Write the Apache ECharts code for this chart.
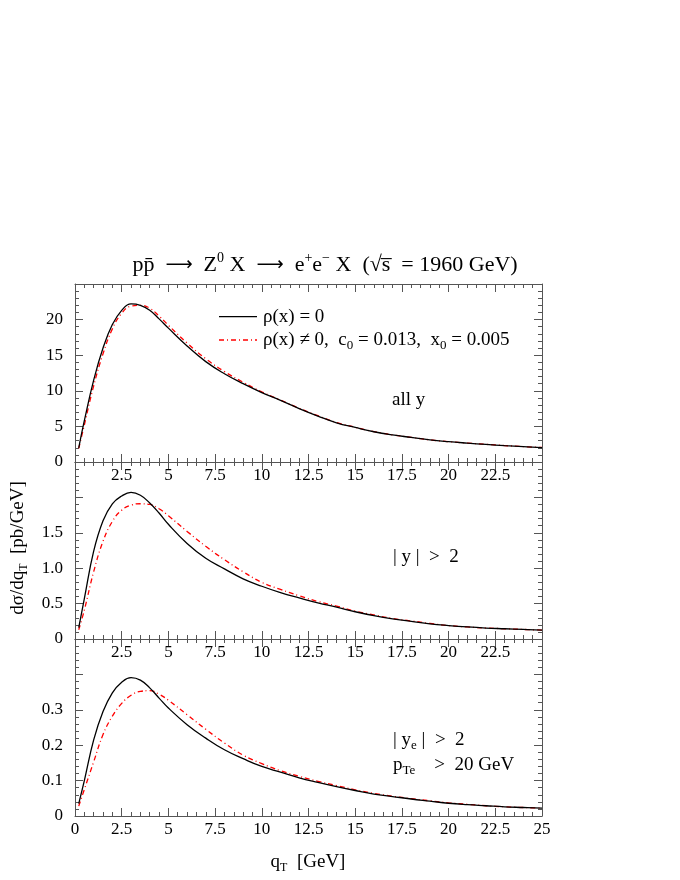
<!DOCTYPE html>
<html><head><meta charset="utf-8">
<script src="https://cdn.jsdelivr.net/npm/echarts@6/dist/echarts.min.js"></script>
<style>html,body{margin:0;padding:0;background:#fff}#c{width:680px;height:880px}</style>
</head><body><div id="c"></div>
<script>
const qT = [0.2,0.5,1,1.5,2,2.5,3,3.5,4,4.5,5,6,7,8,9,10,11,12,13,14,15,16,17,18,19,20,21,22,23,24,25];
const allyRho0   = [2.0,5.8,11.5,16.0,19.3,21.3,22.2,22.0,21.3,20.1,18.8,16.3,14.1,12.4,11.0,9.75,8.65,7.5,6.45,5.5,4.85,4.25,3.8,3.45,3.1,2.85,2.65,2.47,2.3,2.15,2.03];
const allyRhoNZ  = [1.9,5.2,10.7,15.2,18.7,20.9,21.9,22.0,21.6,20.5,19.2,16.7,14.5,12.7,11.2,9.85,8.7,7.55,6.5,5.55,4.88,4.27,3.82,3.46,3.11,2.86,2.66,2.48,2.31,2.16,2.04];
const yGt2Rho0   = [0.16,0.57,1.24,1.67,1.91,2.02,2.07,2.03,1.92,1.78,1.62,1.35,1.14,0.99,0.85,0.745,0.655,0.58,0.51,0.45,0.385,0.33,0.285,0.25,0.215,0.19,0.17,0.155,0.145,0.135,0.125];
const yGt2RhoNZ  = [0.13,0.41,0.95,1.38,1.66,1.82,1.89,1.91,1.90,1.84,1.74,1.52,1.31,1.12,0.95,0.80,0.70,0.61,0.53,0.465,0.395,0.34,0.29,0.255,0.22,0.19,0.17,0.155,0.145,0.135,0.125];
const yeGt2Rho0  = [0.035,0.10,0.215,0.295,0.348,0.378,0.391,0.384,0.362,0.333,0.305,0.258,0.22,0.187,0.162,0.140,0.124,0.108,0.095,0.083,0.072,0.062,0.055,0.048,0.042,0.036,0.032,0.029,0.026,0.024,0.022];
const yeGt2RhoNZ = [0.028,0.075,0.153,0.23,0.282,0.318,0.341,0.352,0.354,0.344,0.327,0.286,0.245,0.206,0.172,0.148,0.128,0.112,0.098,0.086,0.074,0.064,0.056,0.049,0.043,0.037,0.033,0.029,0.026,0.024,0.022];
const yRanges = [[0,25,5],[0,2.5,0.5],[0,0.5,0.1]];
const yShownMax = [20,1.5,0.3];
const yDecimals = [0,1,1];
const xRange = [0,25,2.5];

const FONT = '"Liberation Serif","Times New Roman",serif';
const AX = '#555';
const grids = [{top:284,height:178},{top:462,height:177},{top:639,height:177}].map(g=>({left:75,right:138,top:g.top,height:g.height}));

const xAxes = [], yAxes = [];
function tickCfg(){return {show:true,inside:true,length:8,lineStyle:{color:AX,width:1}};}
function minorCfg(){return {show:true,splitNumber:5,length:4,lineStyle:{color:AX,width:1}};}
for (let i=0;i<3;i++){
  xAxes.push({type:'value',gridIndex:i,position:'bottom',min:xRange[0],max:xRange[1],interval:xRange[2],
    axisLine:{show:true,onZero:false,lineStyle:{color:AX,width:1}},axisTick:tickCfg(),minorTick:minorCfg(),splitLine:{show:false},
    axisLabel:{show:true,margin:5,color:'#000',fontFamily:FONT,fontSize:17,
      formatter:v=>{ if(i<2 && (v===0||v===25)) return ''; return String(+v.toFixed(1)); }}});
}
for (let i=0;i<3;i++){
  xAxes.push({type:'value',gridIndex:i,position:'top',min:xRange[0],max:xRange[1],interval:xRange[2],
    axisLine:{show:true,onZero:false,lineStyle:{color:AX,width:1}},axisTick:tickCfg(),minorTick:minorCfg(),splitLine:{show:false},axisLabel:{show:false}});
}
for (let i=0;i<3;i++){
  const r=yRanges[i];
  yAxes.push({type:'value',gridIndex:i,position:'left',min:r[0],max:r[1],interval:r[2],
    axisLine:{show:true,onZero:false,lineStyle:{color:AX,width:1}},axisTick:tickCfg(),minorTick:minorCfg(),splitLine:{show:false},
    axisLabel:{show:true,margin:12,color:'#000',fontFamily:FONT,fontSize:17,
      formatter:v=>{ if(v>yShownMax[i]+1e-9) return ''; if(Math.abs(v)<1e-9) return '0'; return v.toFixed(yDecimals[i]); }}});
}
for (let i=0;i<3;i++){
  const r=yRanges[i];
  yAxes.push({type:'value',gridIndex:i,position:'right',min:r[0],max:r[1],interval:r[2],
    axisLine:{show:true,onZero:false,lineStyle:{color:AX,width:1}},axisTick:tickCfg(),minorTick:minorCfg(),splitLine:{show:false},axisLabel:{show:false}});
}

const panels = [[allyRho0,allyRhoNZ],[yGt2Rho0,yGt2RhoNZ],[yeGt2Rho0,yeGt2RhoNZ]];
const series = [];
panels.forEach((p,i)=>{
  series.push({type:'line',xAxisIndex:i,yAxisIndex:i,data:qT.map((x,k)=>[x,p[1][k]]),showSymbol:false,smooth:0.45,
    lineStyle:{color:'#ff0000',width:1.3,type:[5,3,1,3]},z:2,silent:true});
  series.push({type:'line',xAxisIndex:i,yAxisIndex:i,data:qT.map((x,k)=>[x,p[0][k]]),showSymbol:false,smooth:0.45,
    lineStyle:{color:'#000',width:1.3,type:'solid'},z:3,silent:true});
});

const main = {fontFamily:FONT,fontSize:22,lineHeight:28,color:'#000'};
const arr = {fontFamily:'"DejaVu Sans"',fontSize:19,lineHeight:28,color:'#000'};
const sup = {fontFamily:FONT,fontSize:14,lineHeight:14,verticalAlign:'top',color:'#000'};
const t19 = {fontFamily:FONT,fontSize:19,lineHeight:24,color:'#000'};
const sub19 = {fontFamily:FONT,fontSize:13,lineHeight:12,verticalAlign:'bottom',color:'#000'};
function txt(x,y,text,rich,align,rot){
  return {type:'text',x:x,y:y,rotation:rot||0,style:{text:text,rich:rich,align:align||'left',textAlign:align||'left',verticalAlign:'middle',textVerticalAlign:'middle'}};
}
const axTitle = {fontFamily:FONT,fontSize:19,lineHeight:24,color:'#000'};
const axSub = {fontFamily:FONT,fontSize:12,lineHeight:11,verticalAlign:'bottom',color:'#000'};
const graphic = [
  txt(325,265,'{m|pp\u0304  }{a|\u27F6}{m|  Z}{s|0}{m| X  }{a|\u27F6}{m|  e}{s|+}{m|e}{s|\u2212}{m| X  (\u221As\u0305  = 1960 GeV)}',{m:main,s:sup,a:arr},'center'),
  {type:'line',shape:{x1:219,y1:316.7,x2:257,y2:316.7},style:{stroke:'#000',lineWidth:1.3}},
  {type:'line',shape:{x1:219,y1:340,x2:257,y2:340},style:{stroke:'#ff0000',lineWidth:1.3,lineDash:[5,3,1,3]}},
  txt(263,316.7,'{m|\u03C1(x) = 0}',{m:t19}),
  txt(263,340,'{m|\u03C1(x) \u2260 0,  c}{b|0}{m| = 0.013,  x}{b|0}{m| = 0.005}',{m:t19,b:sub19}),
  txt(392,400,'{m|all y}',{m:t19}),
  txt(393,557,'{m|| y |  >  2}',{m:t19}),
  txt(393,740,'{m|| y}{b|e}{m| |  >  2}',{m:t19,b:sub19}),
  txt(393,765,'{m|p}{b|Te}{m|    >  20 GeV}',{m:t19,b:sub19}),
  txt(18,548,'{m|d\u03C3/dq}{b|T}{m|  [pb/GeV]}',{m:axTitle,b:axSub},'center',Math.PI/2),
  txt(308,862,'{m|q}{b|T}{m|  [GeV]}',{m:axTitle,b:axSub},'center')
];

const chart = echarts.init(document.getElementById('c'),null,{renderer:'canvas'});
chart.setOption({animation:false,backgroundColor:'#fff',grid:grids,xAxis:xAxes,yAxis:yAxes,series:series,graphic:graphic});
</script></body></html>
